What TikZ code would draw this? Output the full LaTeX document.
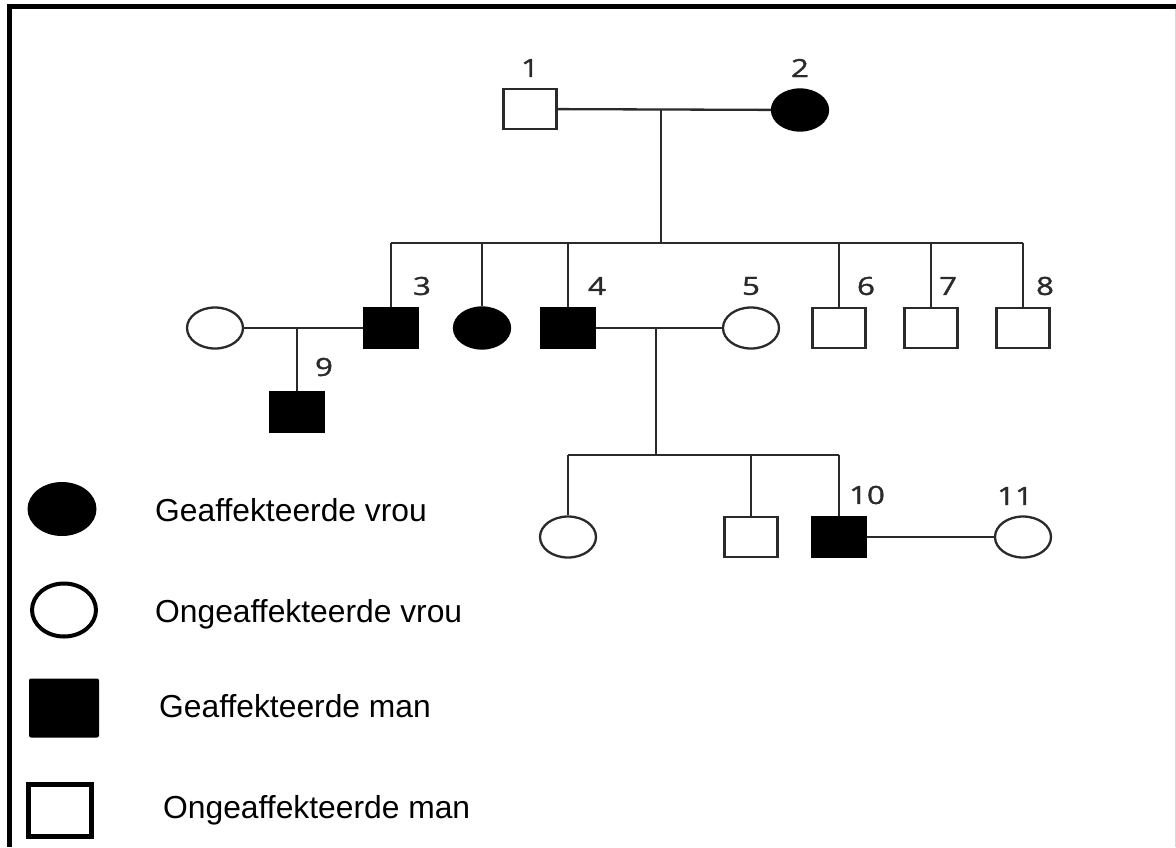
\documentclass[tikz,border=0pt]{standalone}
\usepackage{fontspec}
\usepackage{graphicx}
\setmainfont{Liberation Sans}
\newfontfamily\numfont[FakeBold=1.2]{Open Sans}
\usetikzlibrary{shapes.geometric}
\definecolor{ln}{HTML}{2A2A2A}
\newcommand{\pnum}[1]{\scalebox{1.25}[1]{#1}}
\tikzset{
  male/.style={rectangle, draw=ln, line width=2.3pt, minimum width=53pt, minimum height=40pt, inner sep=0pt},
  female/.style={ellipse, draw=ln, line width=2.3pt, minimum width=56pt, minimum height=41pt, inner sep=0pt},
  aff/.style={fill=black, draw=black},
  unaff/.style={fill=white},
  con/.style={draw=ln, line width=2.3pt},
  num/.style={font=\numfont\fontsize{25}{29}\selectfont, text=ln, inner sep=0pt},
  legtxt/.style={font=\fontsize{31.8}{36}\selectfont, anchor=base west, inner sep=0pt},
}
\begin{document}
\begin{tikzpicture}[x=1pt, y=-1pt]
\useasboundingbox (0,0) rectangle (1176,847);
% frame
\draw[line width=4.5pt] (7,6.5) -- (1176,6.5);
\draw[line width=5pt] (9.5,4.5) -- (9.5,847);
\draw[line width=1pt, black!15] (1175.5,9) -- (1175.5,847);

% generation I
\node[male, unaff] (p1) at (530,109) {};
\node[female, aff] (p2) at (800,110) {};
\node[num] (l1) at (530,68) {\pnum{1}};
\node[num] (l2) at (800,68) {\pnum{2}};
\coordinate (m12) at (661,110);
\coordinate (s1) at (661,243);
\draw[con] (p1) -- (p2);
\draw[con] (m12) -- (s1);

% generation II
\node[female, unaff] (w3) at (215,328) {};
\node[male, aff] (c3) at (391,328) {};
\node[female, aff] (c3b) at (482,328) {};
\node[male, aff] (c4) at (568,328) {};
\node[female, unaff] (c5) at (751,328) {};
\node[male, unaff] (c6) at (839,328) {};
\node[male, unaff] (c7) at (931,328) {};
\node[male, unaff] (c8) at (1023,328) {};
\node[num] (l3) at (422,286) {\pnum{3}};
\node[num] (l4) at (597,286) {\pnum{4}};
\node[num] (l5) at (751,286) {\pnum{5}};
\node[num] (l6) at (866,286) {\pnum{6}};
\node[num] (l7) at (948,286) {\pnum{7}};
\node[num] (l8) at (1045,286) {\pnum{8}};
\draw[con] (c3 |- s1) -- (c8 |- s1);
\foreach \c in {c3,c3b,c4,c6,c7,c8} \draw[con] (\c |- s1) -- (\c.north);

% couple 3
\draw[con] (w3) -- (c3);
\coordinate (m3) at (297,328);
\node[male, aff] (c9) at (297,412) {};
\node[num] (l9) at (324,367) {\pnum{9}};
\draw[con] (m3) -- (c9.north);

% couple 4-5
\draw[con] (c4) -- (c5);
\coordinate (m45) at (656,328);
\coordinate (s2) at (656,455);
\draw[con] (m45) -- (s2);

% generation III
\node[female, unaff] (g1) at (568,537) {};
\node[male, unaff] (g2) at (751,537) {};
\node[male, aff] (g10) at (839,537) {};
\node[female, unaff] (g11) at (1023,537) {};
\node[num] (l10) at (867,495) {\pnum{10}};
\node[num] (l11) at (1015,496) {\pnum{11}};
\draw[con] (g1 |- s2) -- (g10 |- s2);
\foreach \c in {g1,g2,g10} \draw[con] (\c |- s2) -- (\c.north);
\draw[con] (g10) -- (g11);

% legend
\node[ellipse, fill=black, minimum width=69pt, minimum height=54pt, inner sep=0pt] (k1) at (62,509) {};
\node[ellipse, draw=black, line width=4pt, fill=white, minimum width=64pt, minimum height=53pt, inner sep=0pt] (k2) at (64,610) {};
\node[rectangle, fill=black, rounded corners=2pt, minimum width=70pt, minimum height=59pt, inner sep=0pt] (k3) at (64,708) {};
\node[rectangle, draw=black, line width=5pt, fill=white, minimum width=63pt, minimum height=52pt, inner sep=0pt] (k4) at (60,810) {};
\node[legtxt] (t1) at (155,521) {Geaffekteerde vrou};
\node[legtxt] (t2) at (155,622) {Ongeaffekteerde vrou};
\node[legtxt] (t3) at (159,717) {Geaffekteerde man};
\node[legtxt] (t4) at (163,818) {Ongeaffekteerde man};
\end{tikzpicture}
\end{document}
